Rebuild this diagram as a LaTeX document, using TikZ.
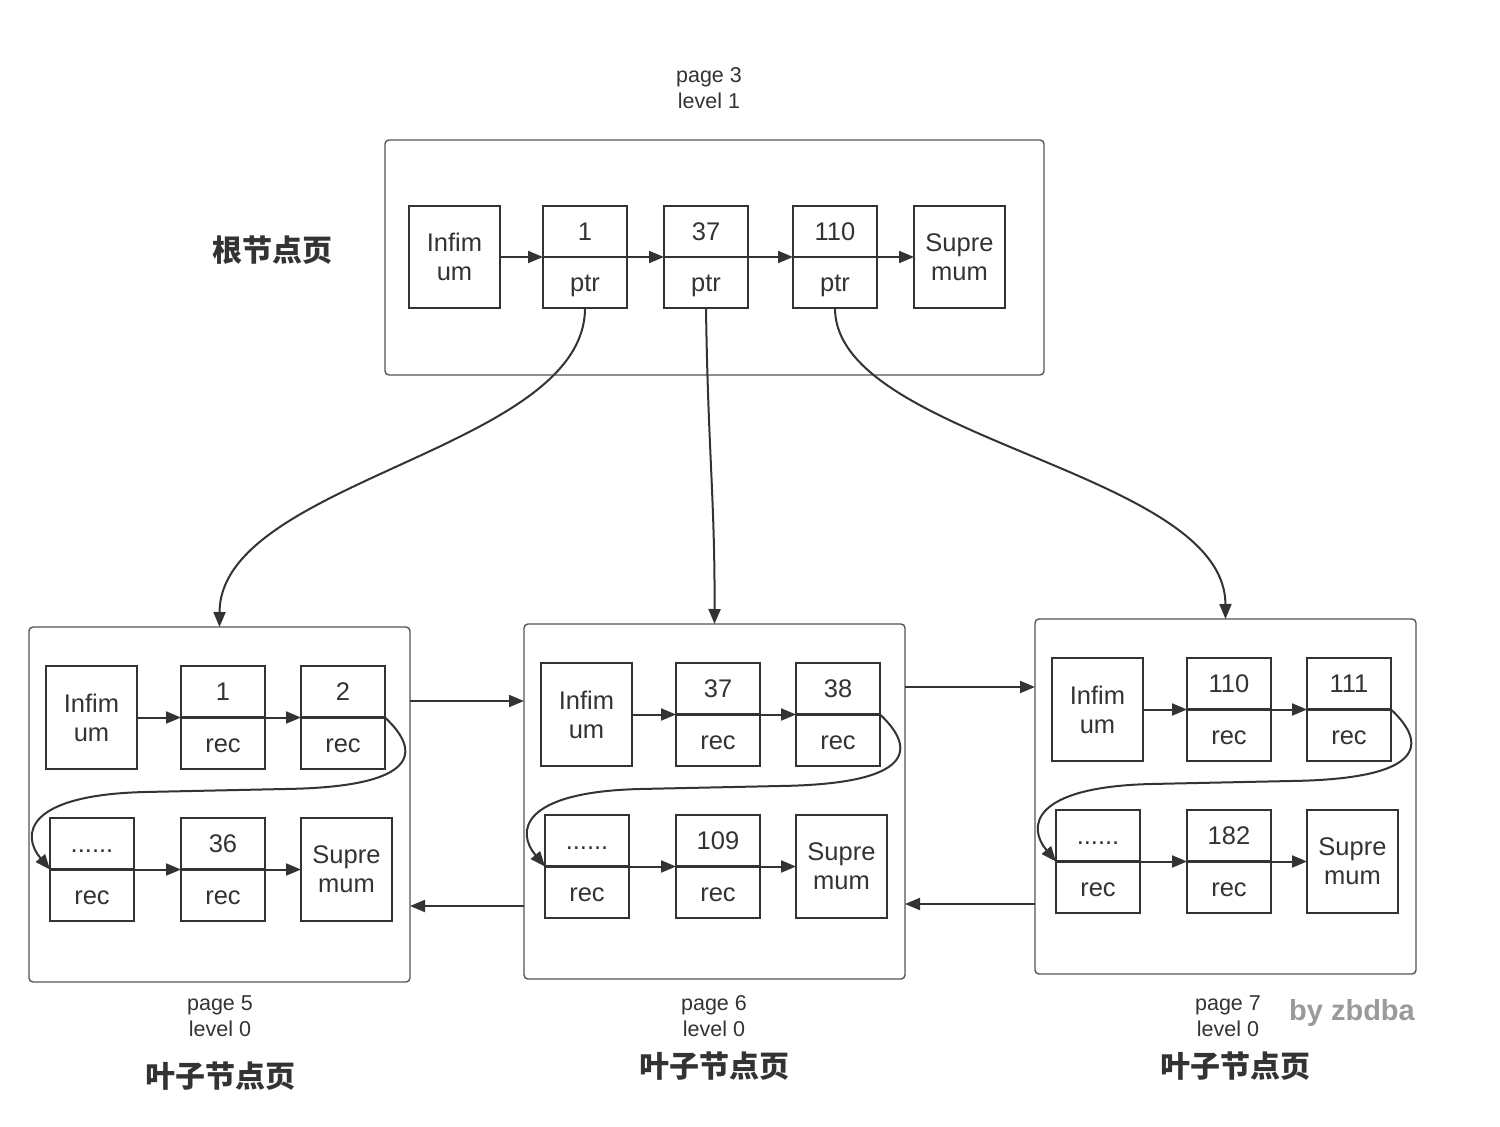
\documentclass[tikz,border=0pt]{standalone}
\usepackage{fontspec}
\setmainfont{Liberation Sans}
\newfontfamily\cjk{Noto Sans CJK SC}
\usetikzlibrary{arrows.meta}
\definecolor{ink}{HTML}{333333}
\definecolor{frame}{HTML}{555555}
\definecolor{sig}{HTML}{9A9A9A}
\newcommand\boxfont{\fontsize{25.5}{29}\selectfont}
\newcommand\labfont{\fontsize{21.5}{26}\selectfont}
\newcommand\cnfont{\cjk\bfseries\fontsize{30}{34}\selectfont}
\tikzset{
  pagebox/.style={draw=frame, line width=1.4pt, rounded corners=4pt, inner sep=0pt, outer sep=0pt},
  cell/.style={draw=ink, line width=2.4pt, minimum width=84pt, minimum height=51.5pt, inner sep=0pt, outer sep=0pt, font=\boxfont, text=ink, text height=18.3pt, text depth=0pt},
  tall/.style={draw=ink, line width=2.4pt, minimum width=91pt, minimum height=103pt, inner sep=0pt, outer sep=0pt, align=center, font=\boxfont, text=ink},
  arr/.style={draw=ink, line width=2pt, -{Triangle[length=15pt,width=12pt]}},
  lab/.style={align=center, font=\labfont, text=ink, inner sep=0pt},
  cn/.style={font=\cnfont, text=ink, inner sep=0pt},
}
\newcommand\leafpage[5]{%
\begin{scope}[shift={#1}, name prefix=#2-]
  \node[pagebox, anchor=north west, minimum width=381pt, minimum height=355pt] (page) at (0,0) {};
  \node[tall, anchor=north west] (inf) at (17,39) {Infim\\um};
  \node[cell, anchor=north west] (at) at (152,39) {#3};
  \node[cell, anchor=north] (ab) at (at.south) {rec};
  \node[cell, anchor=north west] (bt) at (272,39) {#4};
  \node[cell, anchor=north] (bb) at (bt.south) {rec};
  \node[cell, anchor=north west] (ct) at (21,191) {......};
  \node[cell, anchor=north] (cb) at (ct.south) {rec};
  \node[cell, anchor=north west] (dt) at (152,191) {#5};
  \node[cell, anchor=north] (db) at (dt.south) {rec};
  \node[tall, anchor=north west] (sup) at (272,191) {Supre\\mum};
  \draw[arr] (inf.east |- at.south west) -- (at.south west);
  \draw[arr] (at.south east) -- (bt.south west);
  \draw[arr] (bt.south east) .. controls (392,124) and (392,160) .. (256,162)
     -- (116,165) .. controls (-4,168) and (-8,208) .. (ct.south west);
  \draw[arr] (ct.south east) -- (dt.south west);
  \draw[arr] (dt.south east) -- (sup.west |- dt.south);
\end{scope}}
\begin{document}
\begin{tikzpicture}[x=1pt, y=-1pt]
\useasboundingbox[fill=white] (0,0) rectangle (1500,1127);

% root page
\node[pagebox, anchor=north west, minimum width=659pt, minimum height=235pt] (root) at (385,140) {};
\node[lab] (rootlab) at (709,88) {page 3\\level 1};
\node[cn] (rootcn) at (272,250) {根节点页};
\node[tall, anchor=north west, minimum height=102pt] (rinf) at (409,206) {Infim\\um};
\node[cell, anchor=north west, minimum height=51pt] (r1t) at (543,206) {1};
\node[cell, anchor=north, minimum height=51pt] (r1b) at (r1t.south) {ptr};
\node[cell, anchor=north west, minimum height=51pt] (r2t) at (664,206) {37};
\node[cell, anchor=north, minimum height=51pt] (r2b) at (r2t.south) {ptr};
\node[cell, anchor=north west, minimum height=51pt] (r3t) at (793,206) {110};
\node[cell, anchor=north, minimum height=51pt] (r3b) at (r3t.south) {ptr};
\node[tall, anchor=north west, minimum height=102pt] (rsup) at (914,206) {Supre\\mum};
\draw[arr] (rinf.east |- r1t.south west) -- (r1t.south west);
\draw[arr] (r1t.south east) -- (r2t.south west);
\draw[arr] (r2t.south east) -- (r3t.south west);
\draw[arr] (r3t.south east) -- (rsup.west |- r3t.south);

% leaf pages
\leafpage{(29,627)}{p5}{1}{2}{36}
\leafpage{(524,624)}{p6}{37}{38}{109}
\leafpage{(1035,619)}{p7}{110}{111}{182}

% tree pointers
\draw[arr] (r1b.south) .. controls (585,450) and (220,480) .. (p5-page.north);
\draw[arr] (r2b.south) .. controls (708,450) and (715,500) .. (p6-page.north);
\draw[arr] (r3b.south) .. controls (835,440) and (1225,470) .. (p7-page.north);

% sibling links
\coordinate (ya) at (0,701);
\coordinate (yb) at (0,687);
\coordinate (yc) at (0,906);
\coordinate (yd) at (0,904);
\draw[arr] (p5-page.east |- ya) -- (p6-page.west |- ya);
\draw[arr] (p6-page.east |- yb) -- (p7-page.west |- yb);
\draw[arr] (p6-page.west |- yc) -- (p5-page.east |- yc);
\draw[arr] (p7-page.west |- yd) -- (p6-page.east |- yd);

% labels
\node[lab] (l5) at (220,1016) {page 5\\level 0};
\node[lab] (l6) at (714,1016) {page 6\\level 0};
\node[lab] (l7) at (1228,1016) {page 7\\level 0};
\node[cn] (c5) at (220,1076) {叶子节点页};
\node[cn] (c6) at (714,1066) {叶子节点页};
\node[cn] (c7) at (1235,1066) {叶子节点页};
\node[font=\bfseries\fontsize{29}{32}\selectfont, text=sig, inner sep=0pt] (sign) at (1352,1013) {by zbdba};
\end{tikzpicture}
\end{document}
